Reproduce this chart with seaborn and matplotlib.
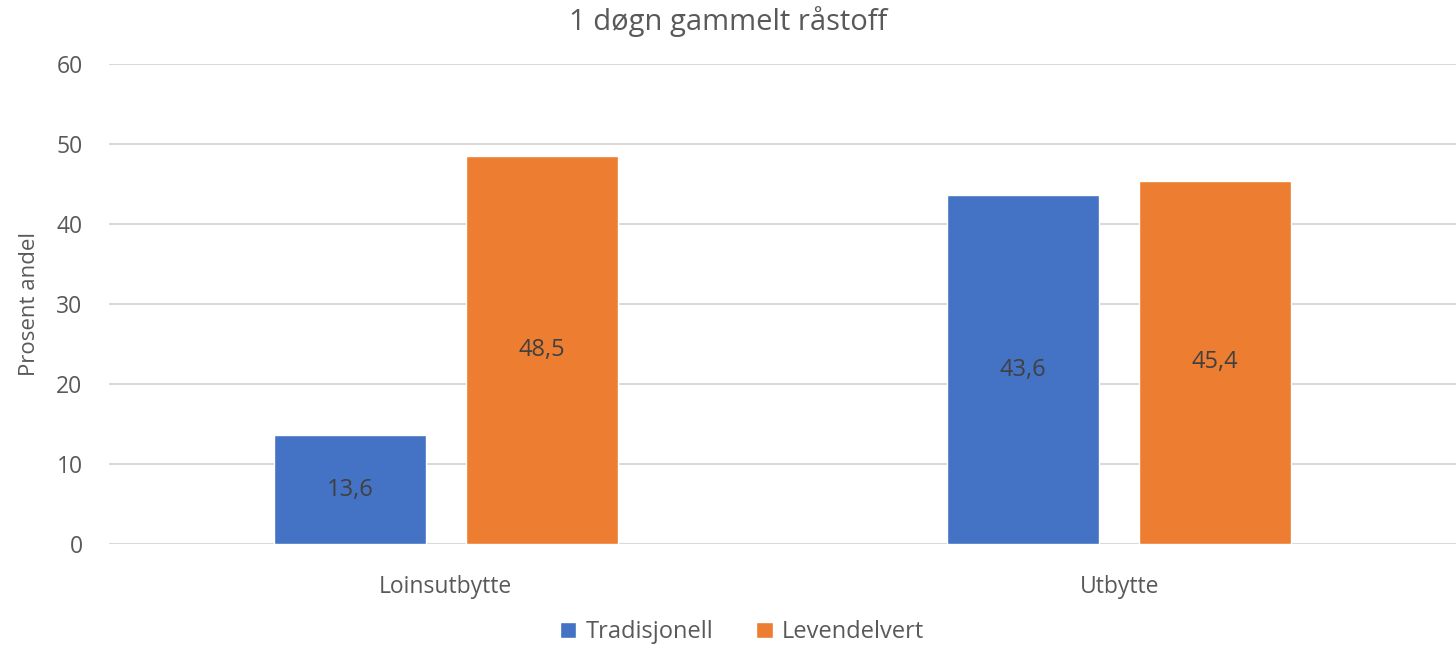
import matplotlib
matplotlib.use("Agg")
import matplotlib.pyplot as plt
import seaborn as sns
import pandas as pd

# data
kategorier = ["Loinsutbytte", "Utbytte"]
tradisjonell = [13.6, 43.6]
levendelvert = [48.5, 45.4]
serier = ["Tradisjonell", "Levendelvert"]

df = pd.DataFrame({
    "kategori": kategorier * 2,
    "verdi": tradisjonell + levendelvert,
    "serie": [serier[0]] * 2 + [serier[1]] * 2,
})

sns.set_theme(style="white")
plt.rcParams["font.family"] = ["Open Sans", "DejaVu Sans"]
tekst = "#595959"

fig = plt.figure(figsize=(14.56, 6.47), dpi=100)
ax = fig.add_axes([109 / 1456, 103 / 647, 1 - 109 / 1456, 480 / 647])

sns.barplot(data=df, x="kategori", y="verdi", hue="serie",
            palette=["#4472C4", "#ED7D31"], width=0.57, gap=0.21,
            ax=ax, saturation=1, legend=True)

ax.set_ylim(0, 60)
ax.set_yticks(range(0, 61, 10))
ax.yaxis.grid(True, color="#D9D9D9", linewidth=1.5)
ax.set_axisbelow(True)
for s in ax.spines.values():
    s.set_visible(False)
ax.tick_params(axis="both", length=0, labelsize=16.5, colors=tekst)
ax.tick_params(axis="y", pad=19)
ax.tick_params(axis="x", pad=22)
ax.set_xlabel("")
ax.set_ylabel("Prosent andel", fontsize=16, color=tekst, labelpad=12)

for c in ax.containers:
    ax.bar_label(c, labels=[f"{v:.1f}".replace(".", ",") for v in c.datavalues],
                 label_type="center", fontsize=17, color="#404040")

fig.suptitle("1 døgn gammelt råstoff", fontsize=21, color=tekst,
             x=0.5, y=0.99, va="top")

ax.legend(loc="upper center", bbox_to_anchor=(0.47, -0.115), ncol=2,
          frameon=False, fontsize=17, labelcolor=tekst, handlelength=0.7,
          handleheight=0.7, handletextpad=0.4, columnspacing=1.8)

fig.savefig("out.png", dpi=100)
